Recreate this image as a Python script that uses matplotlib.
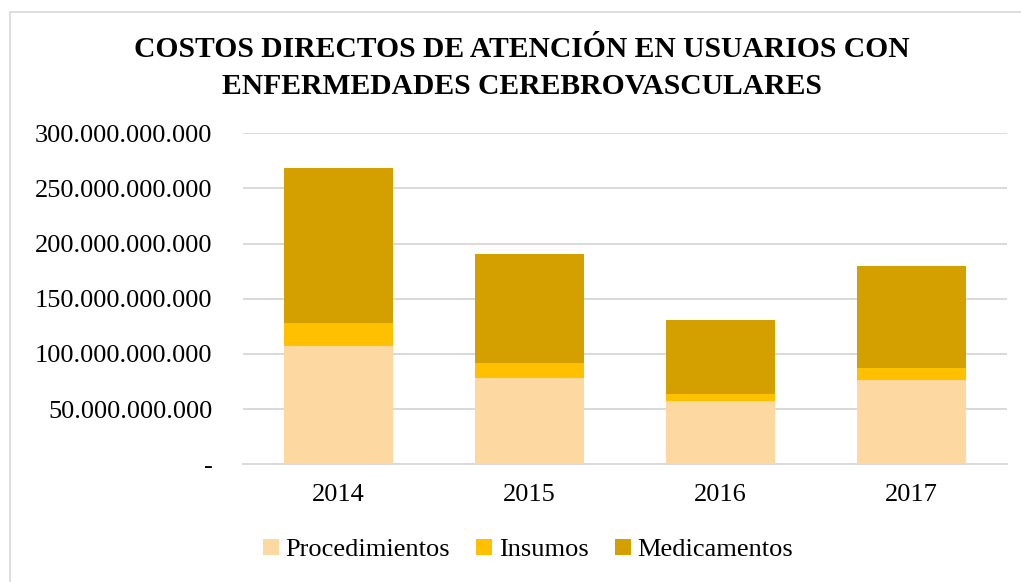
import matplotlib
matplotlib.use("Agg")
import matplotlib.pyplot as plt
from matplotlib.patches import Rectangle
from matplotlib.ticker import FuncFormatter

years = ["2014", "2015", "2016", "2017"]
procedimientos = [107.5e9, 78.5e9, 57.5e9, 76.7e9]
insumos = [21.0e9, 13.5e9, 6.5e9, 10.8e9]
medicamentos = [140.5e9, 99.0e9, 67.0e9, 92.1e9]
yticks = [0, 50e9, 100e9, 150e9, 200e9, 250e9, 300e9]

c_proc = "#FDD8A1"
c_ins = "#FFC000"
c_med = "#D4A000"

plt.rcParams['font.family'] = ['Liberation Serif', 'DejaVu Serif']

fig = plt.figure(figsize=(10.21, 5.82), dpi=100)
fig.patches.append(Rectangle((10/1021, -0.1), 1.2, 1.1 - 12/582,
                             transform=fig.transFigure, fill=False,
                             edgecolor="#D9D9D9", linewidth=1.2, zorder=0))
ax = fig.add_axes([243/1021, 1 - 464.3/582, (1007 - 243)/1021, (464.3 - 133.3)/582])

x = range(len(years))
w = 0.57
b1 = procedimientos
b2 = [p + i for p, i in zip(procedimientos, insumos)]
ax.bar(x, procedimientos, w, color=c_proc, label="Procedimientos", zorder=3)
ax.bar(x, insumos, w, bottom=b1, color=c_ins, label="Insumos", zorder=3)
ax.bar(x, medicamentos, w, bottom=b2, color=c_med, label="Medicamentos", zorder=3)

ax.set_xlim(-0.5, 3.5)
ax.set_ylim(0, 300e9)
ax.set_yticks(yticks)

def fmt(v, pos):
    if v == 0:
        return "-"
    return f"{int(round(v)):,}".replace(",", ".")

ax.yaxis.set_major_formatter(FuncFormatter(fmt))
ax.set_xticks(list(x))
ax.set_xticklabels(years)
ax.grid(axis="y", color="#D9D9D9", linewidth=1.4, zorder=0)
for s in ["top", "right", "left"]:
    ax.spines[s].set_visible(False)
ax.spines["bottom"].set_color("#D9D9D9")
ax.spines["bottom"].set_linewidth(1.4)
ax.tick_params(axis="y", length=0, pad=22, labelsize=19, labelcolor="#000000")
ax.tick_params(axis="x", length=0, pad=14, labelsize=19, labelcolor="#000000")

fig.text(522/1021, 1 - 68/582,
         "COSTOS DIRECTOS DE ATENCIÓN EN USUARIOS CON\nENFERMEDADES CEREBROVASCULARES",
         ha="center", va="center", fontsize=21.3, fontweight="bold",
         linespacing=1.45)

leg = fig.legend(loc="center", bbox_to_anchor=(528/1021, 1 - 550/582), ncol=3,
                 frameon=False, fontsize=19, handlelength=0.6, handleheight=0.6,
                 handletextpad=0.25, columnspacing=1.0, borderaxespad=0)

fig.savefig("out.png", dpi=100)
